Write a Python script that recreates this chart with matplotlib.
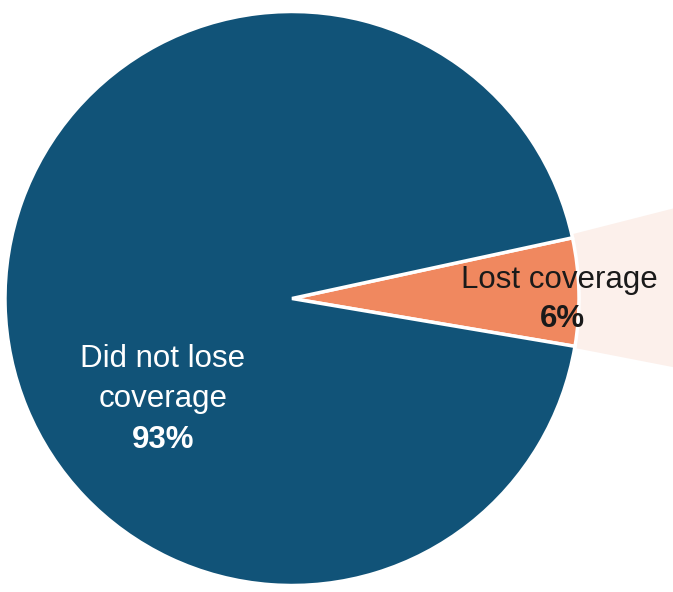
import matplotlib.pyplot as plt
from matplotlib.patches import Wedge

labels = ['Lost coverage', 'Did not lose\ncoverage']
shares = [6, 93]
colors = ['#F0885F', '#115378']
highlight_color = '#FCF0EB'

plt.rcParams['font.family'] = ['Liberation Sans', 'DejaVu Sans']

fig = plt.figure(figsize=(6.73, 5.92), dpi=100)
ax = fig.add_axes([0, 0, 1, 1])

cx, cy, r = 292, 293.5, 287

# pulled-out highlight behind the small slice
ax.add_patch(Wedge((320, cy), 420, -11, 14.3, facecolor=highlight_color,
                   edgecolor='none', zorder=0))

wedges, _ = ax.pie(shares, colors=colors, startangle=-9.6, counterclock=True,
                   center=(cx, cy), radius=r, frame=True,
                   wedgeprops=dict(edgecolor='white', linewidth=2.5))
ax.set_xlim(0, 673)
ax.set_ylim(0, 592)
ax.set_aspect('equal')
ax.axis('off')

fs = 22.5
ax.text(559, 592 - 280, labels[0], ha='center', va='center', fontsize=fs,
        color='#1a1a1a')
ax.text(562, 592 - 319, f'{shares[0]}%', ha='center', va='center', fontsize=fs,
        fontweight='bold', color='#1a1a1a')
ax.text(163, 592 - 379, labels[1], ha='center', va='center', fontsize=fs,
        color='white', linespacing=1.45)
ax.text(163, 592 - 440, f'{shares[1]}%', ha='center', va='center', fontsize=fs,
        fontweight='bold', color='white')

fig.savefig('out.png', dpi=100)
